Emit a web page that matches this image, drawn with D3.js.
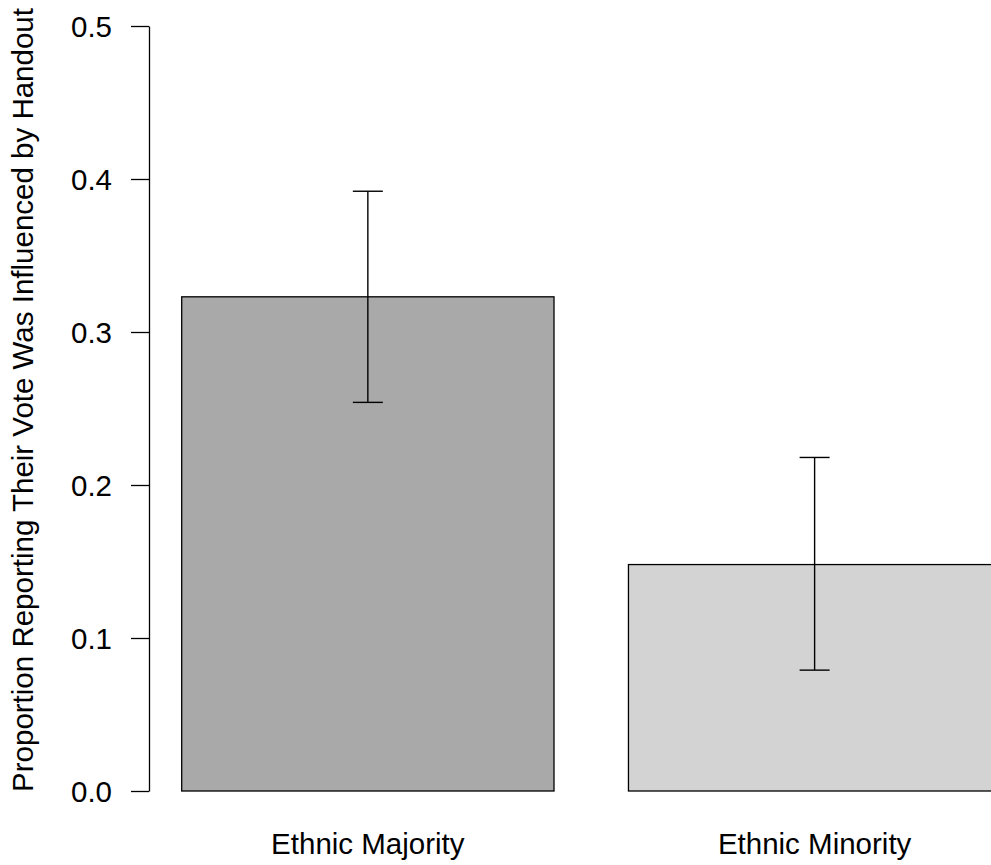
<!DOCTYPE html>
<html>
<head>
<meta charset="utf-8">
<script src="https://cdn.jsdelivr.net/npm/d3@7"></script>
<style>
  html, body { margin: 0; padding: 0; background: #fff; }
  svg { display: block; }
  text { font-family: "Liberation Sans", Arial, Helvetica, sans-serif; fill: #000; }
</style>
</head>
<body>
<svg id="chart" width="991" height="865"></svg>
<script>
const categories = ["Ethnic Majority", "Ethnic Minority"];
const values = [0.323, 0.148];
const lowerCI = [0.254, 0.079];
const upperCI = [0.392, 0.218];
const yTicks = [0.0, 0.1, 0.2, 0.3, 0.4, 0.5];
const yTickLabels = ["0.0", "0.1", "0.2", "0.3", "0.4", "0.5"];
const yLabel = "Proportion Reporting Their Vote Was Influenced by Handout";

const fills = ["#A9A9A9", "#D3D3D3"];
const svg = d3.select("#chart");
const FS = "29.5px";

// R barplot coordinates: width 1, space 0.2
const x = d3.scaleLinear().domain([0.2, 1.2]).range([181.7, 554]);
const y = d3.scaleLinear().domain([0, 0.5]).range([791, 26]);

const barLeft = i => 0.2 + i * 1.2;
const barMid = i => barLeft(i) + 0.5;

const data = categories.map((c, i) => ({c, v: values[i], lo: lowerCI[i], hi: upperCI[i], i}));

// bars
svg.append("g").selectAll("rect").data(data).join("rect")
  .attr("x", d => x(barLeft(d.i)))
  .attr("y", d => y(d.v))
  .attr("width", d => x(barLeft(d.i) + 1) - x(barLeft(d.i)))
  .attr("height", d => y(0) - y(d.v))
  .attr("fill", (d, i) => fills[i])
  .attr("stroke", "#000")
  .attr("stroke-width", 1.3);

// error bars
const eb = svg.append("g").attr("stroke", "#000").attr("stroke-width", 1.4).attr("fill", "none");
data.forEach(d => {
  const cx = x(barMid(d.i));
  eb.append("line").attr("x1", cx).attr("x2", cx).attr("y1", y(d.hi)).attr("y2", y(d.lo));
  eb.append("line").attr("x1", cx - 15).attr("x2", cx + 15).attr("y1", y(d.hi)).attr("y2", y(d.hi));
  eb.append("line").attr("x1", cx - 15).attr("x2", cx + 15).attr("y1", y(d.lo)).attr("y2", y(d.lo));
});

// y axis
const yAxis = d3.axisLeft(y)
  .tickValues(yTicks)
  .tickFormat((d, i) => yTickLabels[i])
  .tickSize(18)
  .tickPadding(19)
  .tickSizeOuter(0);
const ga = svg.append("g").attr("transform", "translate(149,0)").call(yAxis);
ga.select(".domain").attr("stroke", "#000").attr("stroke-width", 1.3);
ga.selectAll(".tick line").attr("stroke", "#000").attr("stroke-width", 1.3);
ga.selectAll(".tick text")
  .style("font-family", "'Liberation Sans', Arial, sans-serif")
  .style("font-size", FS)
  .attr("fill", "#000")
  .attr("dy", "0.36em");

// category labels
svg.append("g").selectAll("text").data(data).join("text")
  .attr("x", d => x(barMid(d.i)))
  .attr("y", 854)
  .attr("text-anchor", "middle")
  .style("font-size", FS)
  .text(d => d.c);

// y label
svg.append("text")
  .attr("transform", "translate(33,400) rotate(-90)")
  .attr("text-anchor", "middle")
  .style("font-size", FS)
  .text(yLabel);
</script>
</body>
</html>
